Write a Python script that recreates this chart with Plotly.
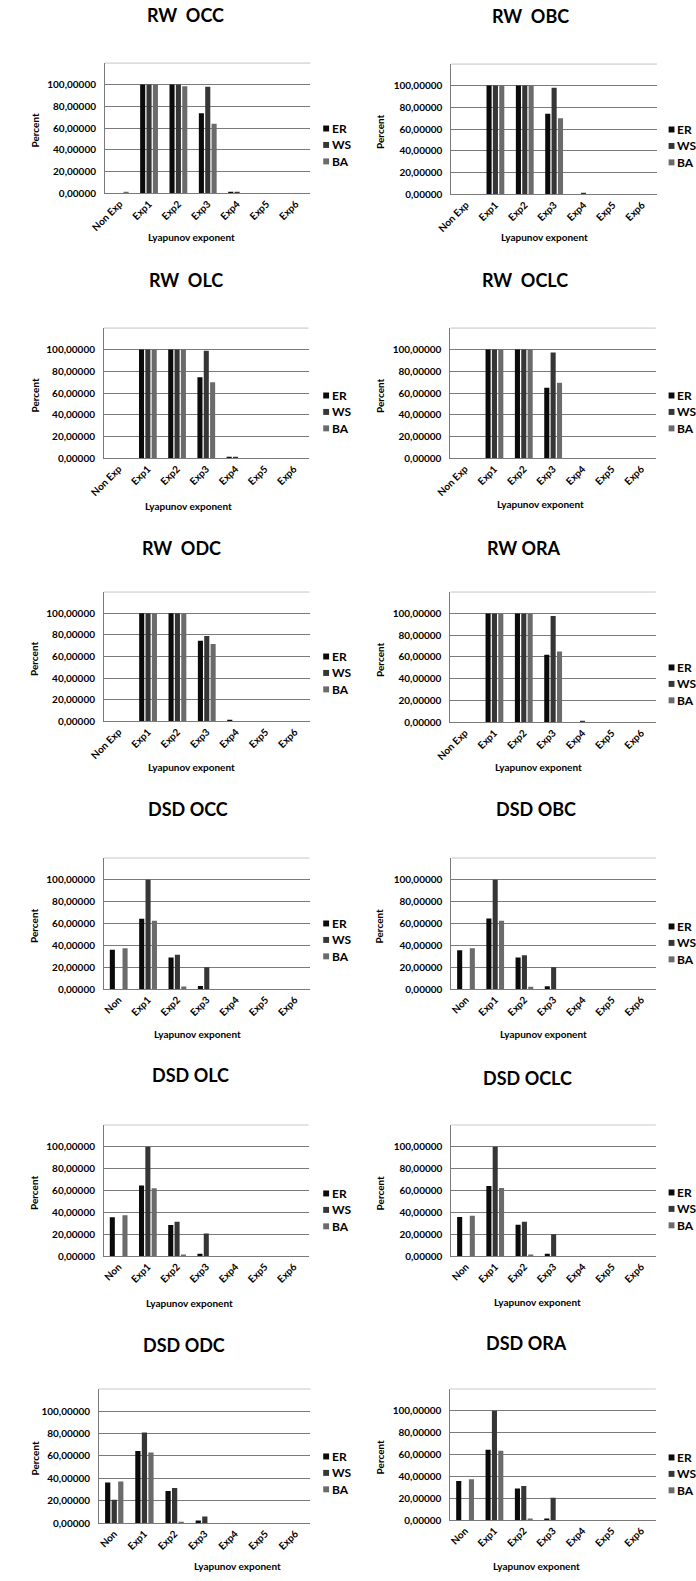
import plotly.graph_objects as go

W, H = 696, 1581
FONT = "Lato"

rw_categories = ["Non Exp", "Exp1", "Exp2", "Exp3", "Exp4", "Exp5", "Exp6"]
dsd_categories = ["Non", "Exp1", "Exp2", "Exp3", "Exp4", "Exp5", "Exp6"]
series_names = ["ER", "WS", "BA"]
series_colors = ["#0b0b0b", "#363636", "#6b6b6b"]

y_tick_values = [0, 20, 40, 60, 80, 100, 120]
y_tick_labels = ["0,00000", "20,00000", "40,00000", "60,00000", "80,00000", "100,00000", ""]

# Percent of runs per Lyapunov-exponent class, one list per network model (ER, WS, BA)
rw_occ_er = [0, 100, 100, 73.5, 0.8, 0, 0]
rw_occ_ws = [0, 100, 100, 98, 0.8, 0, 0]
rw_occ_ba = [0.8, 100, 98.5, 64, 0, 0, 0]

rw_obc_er = [0, 100, 100, 74, 0, 0, 0]
rw_obc_ws = [0, 100, 100, 98, 0.7, 0, 0]
rw_obc_ba = [0, 100, 100, 70, 0, 0, 0]

rw_olc_er = [0, 100, 100, 74.5, 0.8, 0, 0]
rw_olc_ws = [0, 100, 100, 98.8, 0.8, 0, 0]
rw_olc_ba = [0, 100, 100, 70, 0, 0, 0]

rw_oclc_er = [0, 100, 100, 64.8, 0, 0, 0]
rw_oclc_ws = [0, 100, 100, 97.2, 0, 0, 0]
rw_oclc_ba = [0, 100, 100, 69.4, 0, 0, 0]

rw_odc_er = [0, 100, 100, 74.7, 0.7, 0, 0]
rw_odc_ws = [0, 100, 100, 79, 0, 0, 0]
rw_odc_ba = [0, 100, 100, 71.6, 0, 0, 0]

rw_ora_er = [0, 100, 100, 62, 0, 0, 0]
rw_ora_ws = [0, 100, 100, 97.7, 0.6, 0, 0]
rw_ora_ba = [0, 100, 100, 65, 0, 0, 0]

dsd_occ_er = [36, 64.4, 29, 3, 0, 0, 0]
dsd_occ_ws = [0, 100, 31.4, 20, 0, 0, 0]
dsd_occ_ba = [37.5, 62.6, 2.4, 0, 0, 0, 0]

dsd_obc_er = [35.5, 64.5, 29, 2.8, 0, 0, 0]
dsd_obc_ws = [0, 100, 31, 20, 0, 0, 0]
dsd_obc_ba = [37.5, 62.5, 2.2, 0, 0, 0, 0]

dsd_olc_er = [35.5, 64.5, 28.5, 2.3, 0, 0, 0]
dsd_olc_ws = [0, 100, 31.5, 20.7, 0, 0, 0]
dsd_olc_ba = [37.5, 62, 1.5, 0, 0, 0, 0]

dsd_oclc_er = [35.8, 64, 28.7, 2.2, 0, 0, 0]
dsd_oclc_ws = [0, 100, 31.5, 20, 0, 0, 0]
dsd_oclc_ba = [37, 62.3, 1.5, 0, 0, 0, 0]

dsd_odc_er = [36.4, 64.5, 28.7, 2.5, 0, 0, 0]
dsd_odc_ws = [21, 81, 31.3, 6, 0, 0, 0]
dsd_odc_ba = [37.3, 63, 1, 0, 0, 0, 0]

dsd_ora_er = [35.8, 64.2, 29, 1.5, 0, 0, 0]
dsd_ora_ws = [0, 100, 31.2, 20.5, 0, 0, 0]
dsd_ora_ba = [37.3, 63.3, 1.5, 0, 0, 0, 0]

panels = [
    ("RW\u00a0 OCC", rw_categories, (rw_occ_er, rw_occ_ws, rw_occ_ba)),
    ("RW\u00a0 OBC", rw_categories, (rw_obc_er, rw_obc_ws, rw_obc_ba)),
    ("RW\u00a0 OLC", rw_categories, (rw_olc_er, rw_olc_ws, rw_olc_ba)),
    ("RW\u00a0 OCLC", rw_categories, (rw_oclc_er, rw_oclc_ws, rw_oclc_ba)),
    ("RW\u00a0 ODC", rw_categories, (rw_odc_er, rw_odc_ws, rw_odc_ba)),
    ("RW ORA", rw_categories, (rw_ora_er, rw_ora_ws, rw_ora_ba)),
    ("DSD OCC", dsd_categories, (dsd_occ_er, dsd_occ_ws, dsd_occ_ba)),
    ("DSD OBC", dsd_categories, (dsd_obc_er, dsd_obc_ws, dsd_obc_ba)),
    ("DSD OLC", dsd_categories, (dsd_olc_er, dsd_olc_ws, dsd_olc_ba)),
    ("DSD OCLC", dsd_categories, (dsd_oclc_er, dsd_oclc_ws, dsd_oclc_ba)),
    ("DSD ODC", dsd_categories, (dsd_odc_er, dsd_odc_ws, dsd_odc_ba)),
    ("DSD ORA", dsd_categories, (dsd_ora_er, dsd_ora_ws, dsd_ora_ba)),
]

# Page layout in pixels: plot box (left, right, top, bottom)
plot_boxes = [
    (92, 302, 63, 194), (446, 656, 64, 195),
    (91, 300, 329, 460), (445, 655, 329, 460),
    (91, 301, 594, 724), (445, 655, 594, 725),
    (91, 301, 861, 993), (446, 655, 861, 993),
    (91, 300, 1129, 1261), (446, 655, 1129, 1261),
    (86, 302, 1394, 1529), (445, 655, 1394, 1526),
]
title_pos = [
    (174, 15), (527, 16), (175, 281), (521, 281), (170, 550), (520, 550),
    (177, 812), (532, 812), (179, 1079), (524, 1082), (173, 1350), (523, 1348),
]
xtitle_pos = [
    (180, 238), (541, 238), (177, 508), (537, 506), (180, 770), (535, 770),
    (187, 1038), (540, 1038), (178, 1308), (534, 1307), (227, 1572), (533, 1572),
]
legend_first_y = [129, 130, 397, 397, 659, 670, 927, 930, 1198, 1197, 1462, 1463]
legend_step = 16.5

def px(x):
    return x / W

def py(y):
    return 1 - y / H

fig = go.Figure()
layout = dict(
    width=W, height=H,
    margin=dict(l=0, r=0, t=0, b=0),
    paper_bgcolor="white", plot_bgcolor="white",
    barmode="group", bargap=0.35, bargroupgap=0.2,
    showlegend=False,
    font=dict(family=FONT, color="#000"),
)
annotations = []
shapes = []

grid_color = "#7a7a7a"
tick_font = dict(family=FONT, size=10, weight="bold", color="#000")

for i, (title, cats, values) in enumerate(panels):
    n = i + 1
    xname = "x" if n == 1 else f"x{n}"
    yname = "y" if n == 1 else f"y{n}"
    left, right, top, bottom = plot_boxes[i]

    for name, color, vals in zip(series_names, series_colors, values):
        fig.add_trace(go.Bar(
            x=cats, y=vals, name=name, xaxis=xname, yaxis=yname,
            marker=dict(color=color, line=dict(width=0)),
            showlegend=False,
        ))

    layout[f"xaxis{n}"] = dict(
        domain=[px(left), px(right)], anchor=yname,
        tickangle=-45, tickfont=tick_font,
        showgrid=False, showline=True, linecolor=grid_color, linewidth=1,
        ticks="", fixedrange=True,
    )
    layout[f"yaxis{n}"] = dict(
        domain=[py(bottom), py(top)], anchor=xname,
        range=[0, 120], tickvals=y_tick_values, ticktext=y_tick_labels,
        tickfont=tick_font,
        showgrid=True, gridcolor=grid_color, gridwidth=1,
        zeroline=False, showline=True, linecolor=grid_color, linewidth=1,
        ticks="", ticklabelstandoff=6, fixedrange=True,
    )

    # top border of the plot box
    shapes.append(dict(
        type="line", xref=f"{xname} domain", yref=yname,
        x0=0, x1=1, y0=120, y1=120, line=dict(color=grid_color, width=1),
    ))

    tx, ty = title_pos[i]
    annotations.append(dict(
        text=title, x=px(tx), y=py(ty), xref="paper", yref="paper",
        xanchor="center", yanchor="middle", showarrow=False,
        font=dict(family=FONT, size=18, weight="bold", color="#000"),
    ))

    lx, ly = xtitle_pos[i]
    annotations.append(dict(
        text="Lyapunov exponent", x=px(lx), y=py(ly), xref="paper", yref="paper",
        xanchor="center", yanchor="middle", showarrow=False,
        font=dict(family=FONT, size=10, weight="bold", color="#000"),
    ))

    col_x = 20 if left < 200 else 373
    annotations.append(dict(
        text="Percent", x=px(col_x), y=py((top + bottom) / 2 + 2), xref="paper", yref="paper",
        xanchor="center", yanchor="middle", showarrow=False, textangle=-90,
        font=dict(family=FONT, size=10, weight="bold", color="#000"),
    ))

    key_x = 315 if left < 200 else 668
    for k, (name, color) in enumerate(zip(series_names, series_colors)):
        yy = legend_first_y[i] + k * legend_step
        shapes.append(dict(
            type="rect", xref="paper", yref="paper",
            x0=px(key_x), x1=px(key_x + 6), y0=py(yy + 3), y1=py(yy - 3),
            fillcolor=color, line=dict(width=0),
        ))
        annotations.append(dict(
            text=name, x=px(key_x + 7), y=py(yy), xref="paper", yref="paper",
            xanchor="left", yanchor="middle", showarrow=False,
            font=dict(family=FONT, size=12, weight="bold", color="#000"),
        ))

layout["annotations"] = annotations
layout["shapes"] = shapes
fig.update_layout(**layout)
fig.write_html("out.html")
